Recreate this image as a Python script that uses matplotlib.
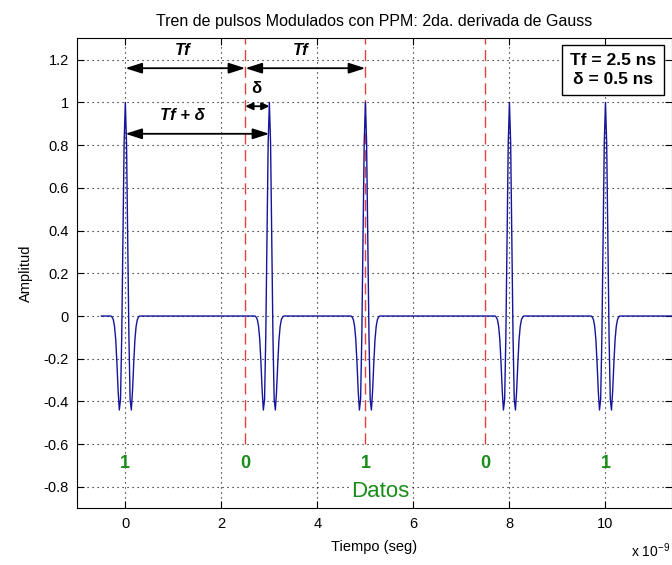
import numpy as np
import matplotlib
matplotlib.use("Agg")
import matplotlib.pyplot as plt
from matplotlib import font_manager

# ---- data ----
pulse_times_ns = [0.0, 3.0, 5.0, 8.0, 10.0]
# half pulse (2nd derivative of Gaussian), samples every 0.025 ns from the centre
pulse_half = [1.0, 0.81, 0.37, -0.10, -0.39, -0.44, -0.35, -0.22, -0.11, -0.048, -0.017, -0.005]
sample_step_ns = 0.025
signal_start_ns = -0.5
signal_end_ns = 11.5
frame_bounds_ns = [2.5, 5.0, 7.5]
bits = ["1", "0", "1", "0", "1"]
bit_pos_ns = [0.0, 2.5, 5.0, 7.5, 10.0]
xticks_ns = [0, 2, 4, 6, 8, 10]
xtick_labels = ["0", "2", "4", "6", "8", "10"]
yticks = [-0.8, -0.6, -0.4, -0.2, 0, 0.2, 0.4, 0.6, 0.8, 1.0, 1.2]
ytick_labels = ["-0.8", "-0.6", "-0.4", "-0.2", "0", "0.2", "0.4", "0.6", "0.8", "1", "1.2"]

# ---- font ----
fam = "Liberation Sans"
for cand in ["Liberation Sans Narrow", "Arial Narrow"]:
    try:
        font_manager.findfont(cand, fallback_to_default=False)
        fam = cand
        break
    except Exception:
        pass
plt.rcParams["font.family"] = [fam, "DejaVu Sans"]

# ---- build signal ----
pulse = np.array(pulse_half[:0:-1] + pulse_half)
n = int(round((signal_end_ns - signal_start_ns) / sample_step_ns)) + 1
t_ns = signal_start_ns + sample_step_ns * np.arange(n)
sig = np.zeros(n)
h = len(pulse_half) - 1
for p in pulse_times_ns:
    c = int(round((p - signal_start_ns) / sample_step_ns))
    sig[c - h:c + h + 1] += pulse
t = t_ns * 1e-9

fig = plt.figure(figsize=(6.72, 5.65), dpi=100)
ax = fig.add_axes([77.3 / 672, 1 - 508.3 / 565, (671.5 - 77.3) / 672, (508.3 - 38.3) / 565])

ax.plot(t, sig, color="#14149c", lw=1.0, zorder=3)
for fb in frame_bounds_ns:
    ax.plot([fb * 1e-9, fb * 1e-9], [-0.6, 1.3], color="#e64040", lw=1.0,
            dashes=(8, 4), zorder=2)

ax.set_xlim(-1e-9, 11.375e-9)
ax.set_ylim(-0.9, 1.3)
ax.set_xticks([x * 1e-9 for x in xticks_ns])
ax.set_xticklabels(xtick_labels)
ax.set_yticks(yticks)
ax.set_yticklabels(ytick_labels)
ax.tick_params(direction="in", length=5, width=0.8, top=True, right=True,
               labelsize=10.5, colors="black", pad=6)
ax.grid(True, color="black", linestyle=(0, (1, 3.5)), linewidth=0.8)
for s in ax.spines.values():
    s.set_linewidth(0.8)

ax.set_title("Tren de pulsos Modulados con PPM: 2da. derivada de Gauss", fontsize=11.5, pad=9)
ax.set_xlabel("Tiempo (seg)", fontsize=10.5, labelpad=7)
ax.set_ylabel("Amplitud", fontsize=10.5, labelpad=8)
fig.text(670 / 672, 1 - 551 / 565, r"x 10$^{\mathregular{-9}}$", ha="right", va="center", fontsize=10)

# arrows
def darrow(x0, x1, y, hl=1.0, hw=0.32):
    ax.annotate("", xy=(x1 * 1e-9, y), xytext=(x0 * 1e-9, y),
                arrowprops=dict(arrowstyle=f"<|-|>,head_length={hl},head_width={hw}",
                                color="black", lw=1.3, shrinkA=0, shrinkB=0), zorder=5)

darrow(0.0, 2.5, 1.16)
darrow(2.5, 5.0, 1.16)
darrow(2.5, 3.0, 0.982, hl=0.45, hw=0.22)
darrow(0.0, 3.0, 0.853)
tf = dict(fontsize=12, fontweight="bold", style="italic", ha="center", va="center")
ax.text(1.19e-9, 1.245, "Tf", **tf)
ax.text(3.65e-9, 1.245, "Tf", **tf)
ax.text(1.19e-9, 0.94, "Tf + δ", **tf)
ax.text(2.72e-9, 1.066, "δ", fontsize=12, fontweight="bold", ha="center", va="center")

# info box
ax.text(11.05e-9, 1.15, "Tf = 2.5 ns\nδ = 0.5 ns", fontsize=12.5, fontweight="bold",
        ha="right", va="center", multialignment="center", linespacing=1.35,
        bbox=dict(boxstyle="square,pad=0.45", fc="white", ec="black", lw=1.0), zorder=6)

# data labels
for b, x in zip(bits, bit_pos_ns):
    ax.text(x * 1e-9, -0.69, b, color="#1a8c1a", fontsize=13, fontweight="bold",
            ha="center", va="center")
ax.text(5.3e-9, -0.82, "Datos", color="#1a8c1a", fontsize=16, ha="center", va="center",
        bbox=dict(fc="white", ec="none", pad=0.5))

fig.savefig("out.png", dpi=100, facecolor="white")
